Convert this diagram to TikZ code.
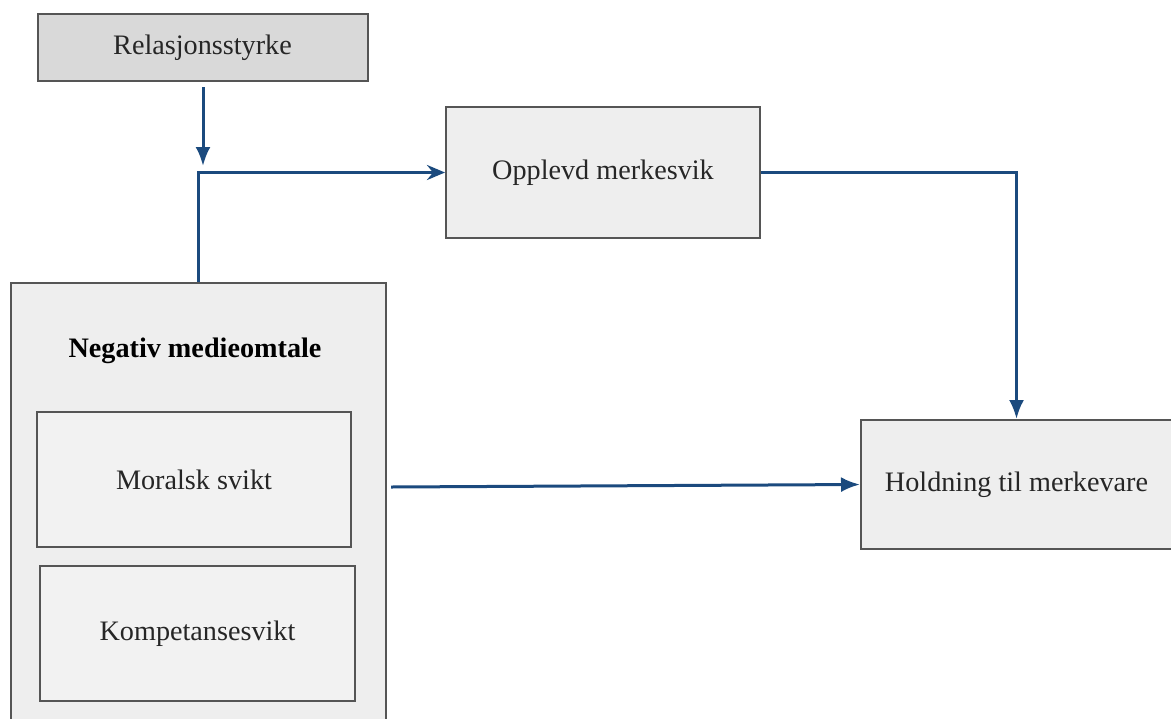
\documentclass[tikz,border=0pt]{standalone}
\usepackage{fontspec}
\setmainfont{Liberation Serif}
\usetikzlibrary{arrows.meta}
\definecolor{linkblue}{HTML}{1B4A7E}
\definecolor{boxline}{HTML}{555555}
\definecolor{boxfill}{HTML}{EEEEEE}
\definecolor{subfill}{HTML}{F2F2F2}
\definecolor{topfill}{HTML}{D9D9D9}
\tikzset{
  box/.style={draw=boxline, line width=1pt, fill=boxfill, rectangle, inner sep=0pt,
    font=\fontsize{14.1}{17}\selectfont, text=black!85},
  link/.style={draw=linkblue, line width=1.5pt, -{Latex[length=9.5pt,width=7.5pt]}},
  barb/.style={draw=linkblue, line width=1.5pt, -{Stealth[length=9pt,width=7.5pt,inset=3pt]}},
}
\begin{document}
\begin{tikzpicture}[x=0.5pt,y=-0.5pt]
\useasboundingbox (0,0) rectangle (1171,718);
\clip (0,0) rectangle (1171,718);
% boxes
\node[box, fill=topfill, minimum width=165pt, minimum height=33.5pt] (rel) at (202.5,47.5) {Relasjonsstyrke};
\node[box, minimum width=157pt, minimum height=65.5pt] (opp) at (603,172.5) {Opplevd merkesvik};
\node[box, minimum width=155.5pt, minimum height=64.5pt] (hold) at (1016.5,484.5) {Holdning til merkevare};
\node[box, minimum width=187.5pt, minimum height=225pt, anchor=north west] (neg) at (10,282) {};
\node[font=\fontsize{14.1}{17}\selectfont\bfseries] (negt) at (195,351) {Negativ medieomtale};
\node[box, fill=subfill, minimum width=157pt, minimum height=67.5pt] (mor) at (194,479.5) {Moralsk svikt};
\node[box, fill=subfill, minimum width=157.5pt, minimum height=67.5pt] (komp) at (197.5,633.5) {Kompetansesvikt};
% connectors
\coordinate (j) at (203,166);
\coordinate (m) at (391,487);
\draw[link] (rel.south -| j) ++(0,5) -- (j);
\draw[barb] (neg.north -| 198,0) |- (opp.west);
\draw[link] (opp.east) -| (hold.north);
\draw[link] (m) -- (hold.west);
\end{tikzpicture}
\end{document}
